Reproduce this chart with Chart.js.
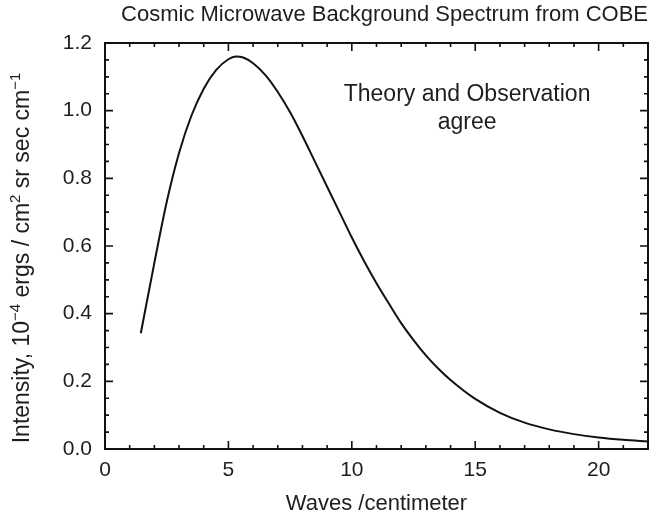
<!DOCTYPE html>
<html>
<head>
<meta charset="utf-8">
<script src="https://cdn.jsdelivr.net/npm/chart.js@4.4.1/dist/chart.umd.min.js"></script>
<style>
  html, body { margin: 0; padding: 0; background: #fff; }
</style>
</head>
<body>
<canvas id="chartCanvas" width="651" height="520"></canvas>
<script>
// curve (waves/cm, intensity in 1e-4 ergs / cm2 sr sec cm-1)
const waves = [1.45, 2.0, 2.5, 3.0, 3.5, 4.0, 4.5, 5.0, 5.3, 5.6, 6.0, 6.5, 7.0, 7.5, 8.0, 8.5, 9.0, 9.5, 10.0, 10.5, 11.0, 11.5, 12.0, 12.5, 13.0, 13.5, 14.0, 15.0, 16.0, 17.0, 18.0, 19.0, 20.0, 21.0, 22.0];
const intensity = [0.342, 0.55, 0.73, 0.875, 0.985, 1.065, 1.12, 1.152, 1.16, 1.157, 1.14, 1.105, 1.055, 0.995, 0.925, 0.85, 0.775, 0.70, 0.625, 0.555, 0.49, 0.43, 0.372, 0.322, 0.277, 0.238, 0.204, 0.148, 0.107, 0.078, 0.058, 0.044, 0.034, 0.027, 0.022];

const xTicks = [0, 5, 10, 15, 20];
const yTicks = [0, 0.2, 0.4, 0.6, 0.8, 1.0, 1.2];

const titulo = 'Cosmic Microwave Background Spectrum from COBE';
const tituloX = 'Waves /centimeter';
// eje y con superindices: [texto, es superindice]
const tituloY = [['Intensity, 10', false], ['\u22124', true], [' ergs / cm', false], ['2', true], [' sr sec cm', false], ['\u22121', true]];
const nota = ['Theory and Observation', 'agree'];
const notaX = 14.67;
const notaY = [1.046, 0.964];

const FUENTE = '"Liberation Sans", Arial, Helvetica, sans-serif';
const TEXTO = '#1e1e1e';

// marco con marcas hacia adentro en los cuatro lados
const marco = {
  id: 'marco',
  afterDatasetsDraw(chart) {
    const { ctx, chartArea: a, scales: { x, y } } = chart;
    ctx.save();
    ctx.strokeStyle = '#111';
    ctx.lineWidth = 2;
    ctx.strokeRect(a.left, a.top, a.right - a.left, a.bottom - a.top);

    ctx.lineWidth = 1.6;
    ctx.beginPath();
    for (let i = 0; i <= 22; i++) {
      const px = x.getPixelForValue(i);
      const len = i % 5 === 0 ? 8 : 4;
      ctx.moveTo(px, a.bottom); ctx.lineTo(px, a.bottom - len);
      ctx.moveTo(px, a.top); ctx.lineTo(px, a.top + len);
    }
    for (let i = 0; i <= 24; i++) {
      const py = y.getPixelForValue(i * 0.05);
      const len = i % 4 === 0 ? 8 : 4;
      ctx.moveTo(a.left, py); ctx.lineTo(a.left + len, py);
      ctx.moveTo(a.right, py); ctx.lineTo(a.right - len, py);
    }
    ctx.stroke();

    // nota
    ctx.fillStyle = TEXTO;
    ctx.font = '23px ' + FUENTE;
    ctx.textAlign = 'center';
    ctx.textBaseline = 'middle';
    nota.forEach((t, i) => {
      ctx.fillText(t, x.getPixelForValue(notaX), y.getPixelForValue(notaY[i]));
    });

    // titulo del eje y, girado
    const normal = '23px ' + FUENTE;
    const sup = '15px ' + FUENTE;
    let total = 0;
    tituloY.forEach(([t, s]) => { ctx.font = s ? sup : normal; total += ctx.measureText(t).width; });
    ctx.translate(21, (a.top + a.bottom) / 2 + 12);
    ctx.rotate(-Math.PI / 2);
    ctx.textAlign = 'left';
    ctx.textBaseline = 'alphabetic';
    let cx = -total / 2;
    tituloY.forEach(([t, s]) => {
      ctx.font = s ? sup : normal;
      ctx.fillText(t, cx, s ? -1 : 8);
      cx += ctx.measureText(t).width;
    });
    ctx.restore();
  }
};

const ctx = document.getElementById('chartCanvas').getContext('2d');
new Chart(ctx, {
  type: 'scatter',
  data: {
    datasets: [{
      data: waves.map((w, i) => ({ x: w, y: intensity[i] })),
      showLine: true,
      borderColor: '#111',
      borderWidth: 2,
      pointRadius: 0,
      cubicInterpolationMode: 'monotone',
      fill: false
    }]
  },
  options: {
    responsive: false,
    animation: false,
    layout: { padding: { left: 0, right: 3, top: 0, bottom: 0 } },
    plugins: {
      legend: { display: false },
      tooltip: { enabled: false },
      title: {
        display: true,
        text: titulo,
        align: 'end',
        color: TEXTO,
        font: { family: FUENTE, size: 22, weight: 'normal' },
        padding: { top: 2, bottom: 14.6 }
      }
    },
    scales: {
      x: {
        type: 'linear',
        min: 0,
        max: 22,
        afterBuildTicks: s => { s.ticks = xTicks.map(v => ({ value: v })); },
        afterFit: s => { s.height = 71; },
        grid: { display: false, drawTicks: false },
        border: { display: false },
        ticks: { color: TEXTO, font: { family: FUENTE, size: 21 }, padding: 9, maxRotation: 0 },
        title: {
          display: true,
          text: tituloX,
          color: TEXTO,
          font: { family: FUENTE, size: 22 },
          padding: { top: 4, bottom: 3 }
        }
      },
      y: {
        min: 0,
        max: 1.2,
        afterBuildTicks: s => { s.ticks = yTicks.map(v => ({ value: v })); },
        afterFit: s => { s.width = 105; },
        grid: { display: false, drawTicks: false },
        border: { display: false },
        ticks: { color: TEXTO, font: { family: FUENTE, size: 21 }, padding: 13, callback: v => v.toFixed(1) }
      }
    }
  },
  plugins: [marco]
});
</script>
</body>
</html>
